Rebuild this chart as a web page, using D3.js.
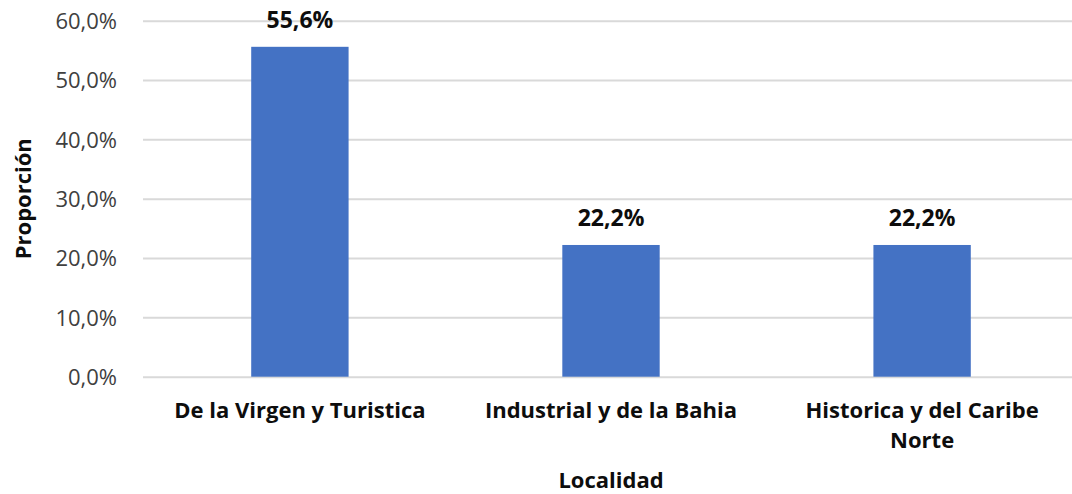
<!DOCTYPE html>
<meta charset="utf-8">
<style>
body { margin: 0; background: #fff; }
text { font-family: "Open Sans", sans-serif; }
.tick text { font-size: 22px; fill: #404040; }
.lbl { font-size: 22px; font-weight: bold; fill: #0d0d0d; text-anchor: middle; }
.val { font-size: 23px; }
</style>
<svg width="1072" height="494"></svg>
<script src="https://d3js.org/d3.v7.min.js"></script>
<script>

var categories = ["De la Virgen y Turistica", "Industrial y de la Bahia", "Historica y del Caribe Norte"];
var values = [55.6, 22.2, 22.2];
var yTicks = [0, 10, 20, 30, 40, 50, 60];

var svg = d3.select("svg"),
	plotLeft = 144.5, plotRight = 1077.5, plotTop = 20.7, plotBottom = 376.7;

var x = d3.scaleBand()
	.domain(categories)
	.range([plotLeft, plotRight])
	.paddingInner(0.687)
	.paddingOuter(0.343);

var y = d3.scaleLinear()
	.domain([0, 60])
	.range([plotBottom, plotTop]);

var fmt = function(v) { return v.toFixed(1).replace(".", ",") + "%"; };

// gridlines + tick labels
var yAxis = svg.append("g")
	.attr("transform", "translate(143,0)")
	.call(d3.axisLeft(y).tickValues(yTicks).tickSize(-929).tickPadding(26).tickFormat(fmt));
yAxis.select(".domain").remove();
yAxis.selectAll(".tick line").attr("stroke", "#d9d9d9").attr("stroke-width", 2);
yAxis.selectAll(".tick text").attr("dy", "0.35em");

svg.append("g").selectAll("rect")
	.data(values)
	.enter().append("rect")
	.attr("x", function(d, i) { return x(categories[i]); })
	.attr("width", x.bandwidth())
	.attr("y", function(d) { return y(d); })
	.attr("height", function(d) { return y(0) - y(d); })
	.attr("fill", "#4472c4");

svg.append("g").selectAll("text")
	.data(values)
	.enter().append("text")
	.attr("class", "lbl val")
	.attr("x", function(d, i) { return x(categories[i]) + x.bandwidth() / 2; })
	.attr("y", function(d) { return y(d) - 19; })
	.text(fmt);

// category labels with wrapping
var cat = svg.append("g").selectAll("text")
	.data(categories)
	.enter().append("text")
	.attr("class", "lbl")
	.attr("x", function(d) { return x(d) + x.bandwidth() / 2; })
	.attr("y", 418);

cat.each(function(d) {
	var el = d3.select(this), words = d.split(" "), line = [];
	var ts = el.append("tspan").attr("x", el.attr("x"));
	words.forEach(function(w) {
		line.push(w);
		ts.text(line.join(" "));
		if (ts.node().getComputedTextLength() > 285 && line.length > 1) {
			line.pop();
			ts.text(line.join(" "));
			line = [w];
			ts = el.append("tspan").attr("x", el.attr("x")).attr("dy", 30).text(w);
		}
	});
});

svg.append("text")
	.attr("class", "lbl")
	.attr("x", (plotLeft + plotRight) / 2)
	.attr("y", 488)
	.text("Localidad");

svg.append("text")
	.attr("class", "lbl")
	.attr("transform", "translate(31," + ((plotTop + plotBottom) / 2) + ") rotate(-90)")
	.text("Proporción");

</script>
